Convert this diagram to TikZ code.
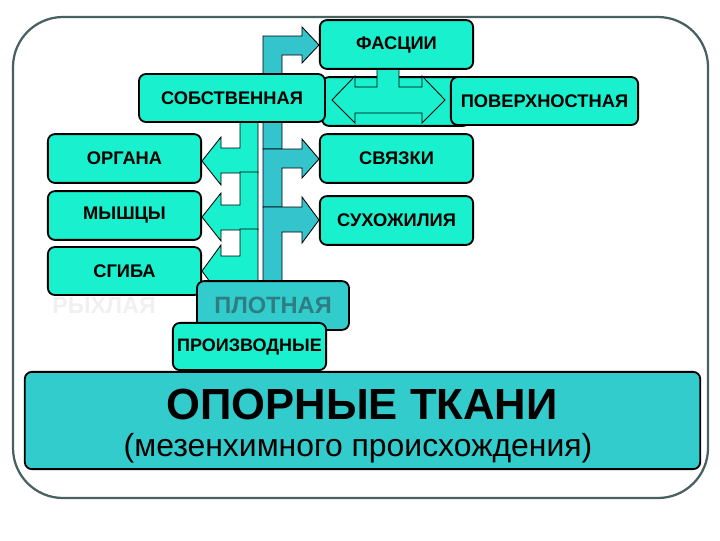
\documentclass[tikz,border=0pt]{standalone}
\usepackage{fontspec}
\setmainfont{Liberation Sans}
\usetikzlibrary{positioning}
\definecolor{brightcyan}{RGB}{25,240,205}
\definecolor{tealbox}{RGB}{51,204,204}
\definecolor{tealarrow}{RGB}{51,196,204}
\definecolor{framegray}{RGB}{72,96,96}
\definecolor{plottext}{RGB}{45,125,130}

\begin{document}
\begin{tikzpicture}[x=0.025cm, y=-0.025cm,
    box/.style={rectangle, rounded corners=5pt, draw, line width=1.3pt, fill=brightcyan, minimum width=3.83cm, minimum height=1.22cm, inner sep=0pt, font=\bfseries\fontsize{13}{15}\selectfont},
    darkbox/.style={box, fill=tealbox},
    cyanarrow/.style={draw, line width=0.6pt, fill=brightcyan},
    tealblock/.style={draw, line width=0.6pt, fill=tealarrow}
]
\useasboundingbox (0,0) rectangle (720,540);
% outer frame
\draw[framegray, line width=1.6pt, rounded corners=1.25cm] (13,17) rectangle (708,498);

% box behind the double arrow
\node[box, minimum width=3.7cm] (middle) at (396,101.5) {};
\draw[cyanarrow] (377,69) -- (399,69) -- (399,87) -- (422,87) -- (422,76) -- (445,100) -- (422,123) -- (422,113)
    -- (355,113) -- (355,123) -- (332,100) -- (355,76) -- (355,87) -- (377,87) -- cycle;

% dense branch (right)
\draw[tealblock] (263,149) -- (263,36) -- (302,36) -- (302,27) -- (319,45) -- (302,63) -- (302,55) -- (282,55) -- (282,149) -- cycle;
\draw[tealblock] (263,207) -- (263,149) -- (302,149) -- (302,139) -- (319,159) -- (302,178) -- (302,168) -- (282,168) -- (282,207) -- cycle;
\draw[tealblock] (263,290) -- (263,207) -- (302,207) -- (302,197) -- (319,220) -- (302,243) -- (302,232) -- (282,232) -- (282,290) -- cycle;

% loose branch (left)
\draw[cyanarrow] (240,115) -- (258,115) -- (258,173) -- (221,173) -- (221,185) -- (202,161) -- (221,137) -- (221,148) -- (240,148) -- cycle;
\draw[cyanarrow] (240,172) -- (258,172) -- (258,230) -- (221,230) -- (221,241) -- (202,217) -- (221,193) -- (221,205) -- (240,205) -- cycle;
\draw[cyanarrow] (240,229) -- (258,229) -- (258,290) -- (221,290) -- (221,297) -- (202,271) -- (221,245) -- (221,256) -- (240,256) -- cycle;

% boxes
\node[box, minimum width=4.65cm, minimum height=1.2cm] (sobstv) at (232,98) {СОБСТВЕННАЯ};
\node[box] (fascii) at (396.5,44.5) {ФАСЦИИ};
\node[box, minimum width=4.68cm, minimum height=1.2cm] (poverkh) at (544.5,101) {ПОВЕРХНОСТНАЯ};
\node[box] (organa) at (124.5,158.5) {ОРГАНА};
\node[box] (myshcy) at (124.5,215.5) {МЫШЦЫ};
\node[box, minimum height=1.2cm] (sgiba) at (124.5,271) {СГИБА};
\node[box] (svyazki) at (396.5,158.5) {СВЯЗКИ};
\node[box] (sukhozh) at (396.5,220.5) {СУХОЖИЛИЯ};
\node[font=\bfseries\fontsize{16.5}{18}\selectfont, text=black!6] (rykhlaya) at (104,306) {РЫХЛАЯ};
\node[darkbox, minimum width=3.8cm, text=plottext, font=\bfseries\fontsize{16.8}{18}\selectfont] (plotnaya) at (273,305.5) {ПЛОТНАЯ};
\node[box, minimum height=1.18cm, font=\bfseries\fontsize{12.8}{14}\selectfont] (proizv) at (249.5,346.5) {ПРОИЗВОДНЫЕ};
\node[darkbox, minimum width=16.88cm, minimum height=2.43cm] (opornye) at (362.5,420.5) {};
\node[font=\bfseries\fontsize{31}{34}\selectfont] (title) at (362,404) {ОПОРНЫЕ ТКАНИ};
\node[font=\fontsize{22.7}{26}\selectfont] (subtitle) at (358,448) {(мезенхимного происхождения)};
\end{tikzpicture}
\end{document}
